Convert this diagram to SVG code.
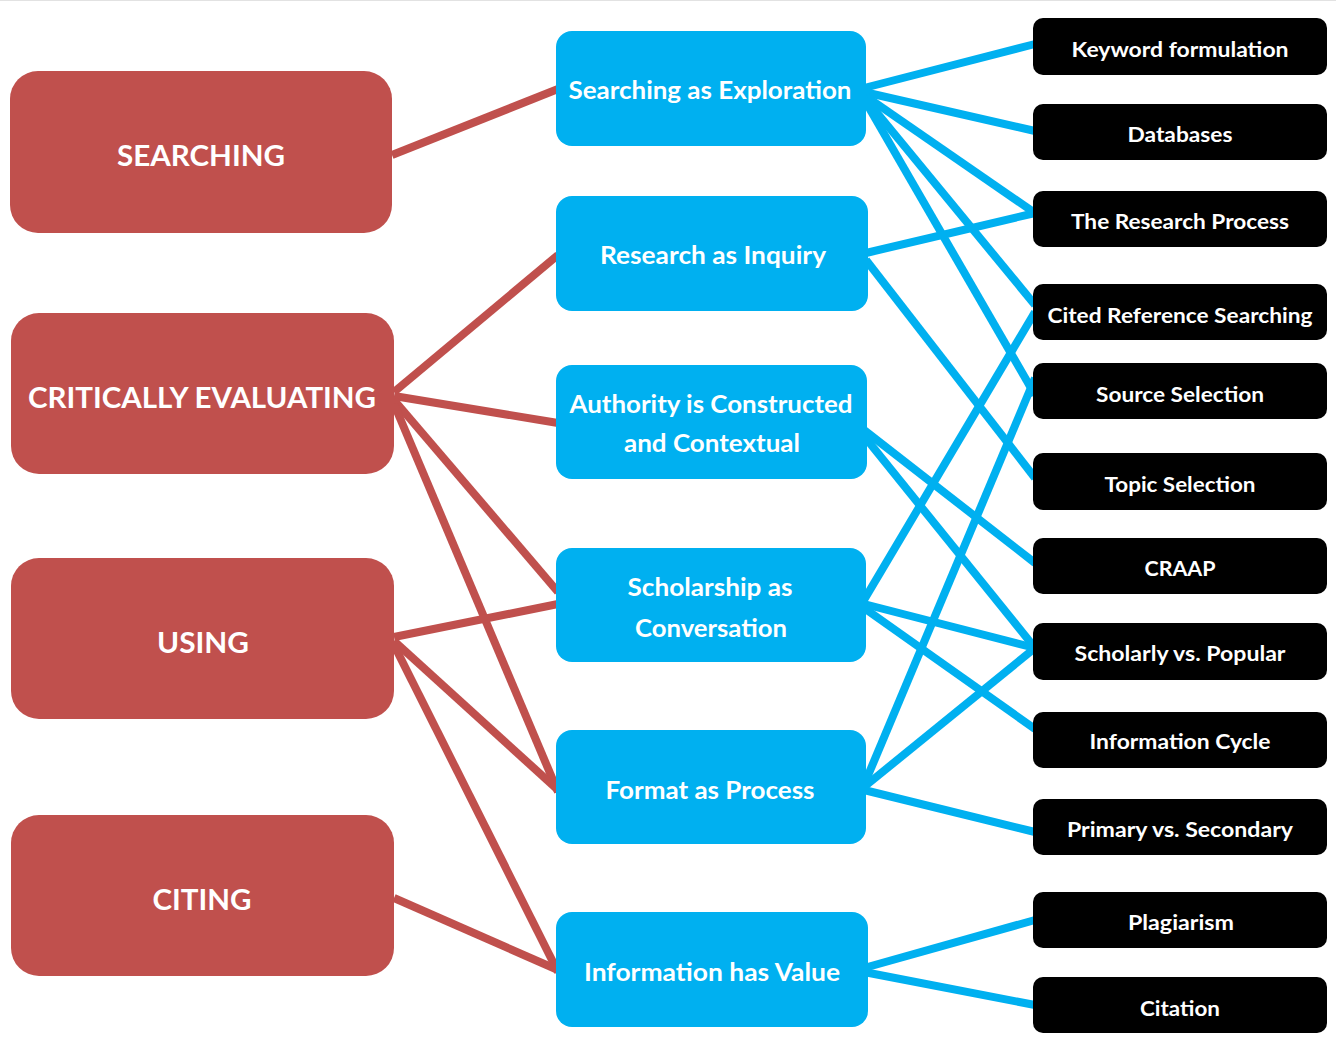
<svg xmlns="http://www.w3.org/2000/svg" width="1336" height="1044" viewBox="0 0 1336 1044">
<style>
text{font-family:Lato,"Open Sans","Liberation Sans",sans-serif;font-weight:bold;fill:#fff;text-anchor:middle;dominant-baseline:central}
.red rect{fill:#C0504D}
.blue rect{fill:#00B0F0}
.blk rect{fill:#000}
.red text{font-size:29px}
.blue text{font-size:25px}
.blk text{font-size:21px}
.lr line{stroke:#C0504D;stroke-width:8}
.lb line{stroke:#00B0F0;stroke-width:8}
</style>
<rect x="0" y="0" width="1336" height="1044" fill="#fff"/>
<line x1="0" y1="0.5" x2="1336" y2="0.5" stroke="#e2e2e2" stroke-width="1"/>
<g id="connectors">
<g class="lr">
<line x1="392" y1="155" x2="558" y2="89"/>
<line x1="394" y1="392" x2="558" y2="255"/>
<line x1="394" y1="396" x2="558" y2="423"/>
<line x1="394" y1="400" x2="558" y2="592"/>
<line x1="394" y1="404" x2="558" y2="792"/>
<line x1="394" y1="637" x2="558" y2="604"/>
<line x1="394" y1="641" x2="558" y2="790"/>
<line x1="394" y1="645" x2="558" y2="972"/>
<line x1="394" y1="898" x2="558" y2="970"/>
</g>
<g class="lb">
<line x1="864" y1="88" x2="1035" y2="44"/>
<line x1="864" y1="92" x2="1035" y2="131"/>
<line x1="864" y1="95" x2="1035" y2="213"/>
<line x1="864" y1="97" x2="1035" y2="305"/>
<line x1="864" y1="99" x2="1035" y2="395"/>
<line x1="866" y1="253" x2="1035" y2="213"/>
<line x1="866" y1="260" x2="1035" y2="478"/>
<line x1="864" y1="430" x2="1035" y2="563"/>
<line x1="864" y1="436" x2="1035" y2="648"/>
<line x1="864" y1="600" x2="1035" y2="312"/>
<line x1="864" y1="604" x2="1035" y2="648"/>
<line x1="864" y1="608" x2="1035" y2="729"/>
<line x1="864" y1="785" x2="1035" y2="378"/>
<line x1="864" y1="787" x2="1035" y2="648"/>
<line x1="864" y1="790" x2="1035" y2="832"/>
<line x1="864" y1="968" x2="1035" y2="920"/>
<line x1="864" y1="972" x2="1035" y2="1005"/>
</g>
</g>
<g id="n-searching" class="red"><rect x="10" y="71" width="382" height="162" rx="28"/><text x="201" y="154" textLength="168" lengthAdjust="spacingAndGlyphs">SEARCHING</text></g>
<g id="n-critically-evaluating" class="red"><rect x="11" y="313" width="383" height="161" rx="28"/><text x="202" y="396" textLength="348" lengthAdjust="spacingAndGlyphs">CRITICALLY EVALUATING</text></g>
<g id="n-using" class="red"><rect x="11" y="558" width="383" height="161" rx="28"/><text x="203" y="641" textLength="92" lengthAdjust="spacingAndGlyphs">USING</text></g>
<g id="n-citing" class="red"><rect x="11" y="815" width="383" height="161" rx="28"/><text x="202" y="898" textLength="99" lengthAdjust="spacingAndGlyphs">CITING</text></g>

<g id="n-searching-exploration" class="blue"><rect x="556" y="31" width="310" height="115" rx="16"/><text x="710" y="89" textLength="283" lengthAdjust="spacingAndGlyphs">Searching as Exploration</text></g>
<g id="n-research-inquiry" class="blue"><rect x="556" y="196" width="312" height="115" rx="16"/><text x="713" y="254" textLength="226" lengthAdjust="spacingAndGlyphs">Research as Inquiry</text></g>
<g id="n-authority" class="blue"><rect x="556" y="365" width="311" height="114" rx="16"/><text x="711" y="403" textLength="283" lengthAdjust="spacingAndGlyphs">Authority is Constructed</text><text x="712" y="442" textLength="176" lengthAdjust="spacingAndGlyphs">and Contextual</text></g>
<g id="n-scholarship" class="blue"><rect x="556" y="548" width="310" height="114" rx="16"/><text x="710" y="586" textLength="165" lengthAdjust="spacingAndGlyphs">Scholarship as</text><text x="711" y="627" textLength="152" lengthAdjust="spacingAndGlyphs">Conversation</text></g>
<g id="n-format" class="blue"><rect x="556" y="730" width="310" height="114" rx="16"/><text x="710" y="789" textLength="209" lengthAdjust="spacingAndGlyphs">Format as Process</text></g>
<g id="n-info-value" class="blue"><rect x="556" y="912" width="312" height="115" rx="16"/><text x="712" y="971" textLength="256" lengthAdjust="spacingAndGlyphs">Information has Value</text></g>

<g id="n-keyword" class="blk"><rect x="1033" y="18" width="294" height="57" rx="10"/><text x="1180" y="48" textLength="217" lengthAdjust="spacingAndGlyphs">Keyword formulation</text></g>
<g id="n-databases" class="blk"><rect x="1033" y="104" width="294" height="56" rx="10"/><text x="1180" y="133" textLength="105" lengthAdjust="spacingAndGlyphs">Databases</text></g>
<g id="n-research-process" class="blk"><rect x="1033" y="191" width="294" height="56" rx="10"/><text x="1180" y="220" textLength="218" lengthAdjust="spacingAndGlyphs">The Research Process</text></g>
<g id="n-cited-reference" class="blk"><rect x="1033" y="284" width="294" height="56" rx="10"/><text x="1180" y="314" textLength="265" lengthAdjust="spacingAndGlyphs">Cited Reference Searching</text></g>
<g id="n-source-selection" class="blk"><rect x="1033" y="363" width="294" height="56" rx="10"/><text x="1180" y="393" textLength="168" lengthAdjust="spacingAndGlyphs">Source Selection</text></g>
<g id="n-topic-selection" class="blk"><rect x="1033" y="453" width="294" height="57" rx="10"/><text x="1180" y="483" textLength="151" lengthAdjust="spacingAndGlyphs">Topic Selection</text></g>
<g id="n-craap" class="blk"><rect x="1033" y="538" width="294" height="56" rx="10"/><text x="1180" y="567" textLength="71" lengthAdjust="spacingAndGlyphs">CRAAP</text></g>
<g id="n-scholarly-popular" class="blk"><rect x="1033" y="623" width="294" height="57" rx="10"/><text x="1180" y="652" textLength="211" lengthAdjust="spacingAndGlyphs">Scholarly vs. Popular</text></g>
<g id="n-info-cycle" class="blk"><rect x="1033" y="712" width="294" height="56" rx="10"/><text x="1180" y="740" textLength="181" lengthAdjust="spacingAndGlyphs">Information Cycle</text></g>
<g id="n-primary-secondary" class="blk"><rect x="1033" y="799" width="294" height="56" rx="10"/><text x="1180" y="828" textLength="226" lengthAdjust="spacingAndGlyphs">Primary vs. Secondary</text></g>
<g id="n-plagiarism" class="blk"><rect x="1033" y="892" width="294" height="56" rx="10"/><text x="1181" y="921" textLength="106" lengthAdjust="spacingAndGlyphs">Plagiarism</text></g>
<g id="n-citation" class="blk"><rect x="1033" y="977" width="294" height="56" rx="10"/><text x="1180" y="1007" textLength="80" lengthAdjust="spacingAndGlyphs">Citation</text></g>
</svg>
